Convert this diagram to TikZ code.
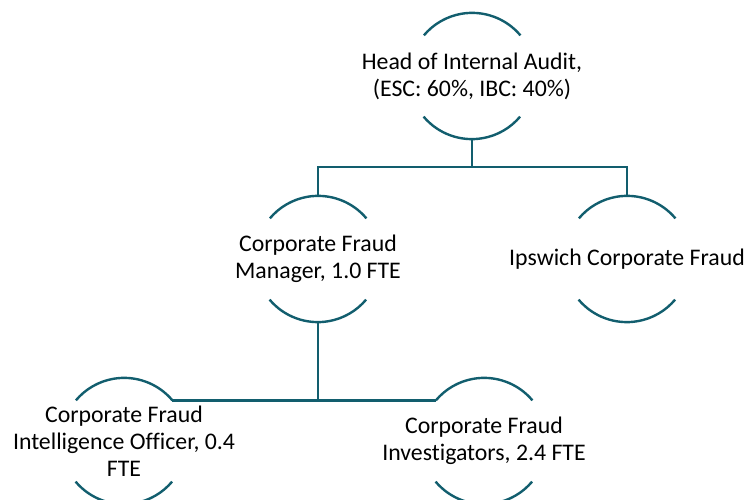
\documentclass[tikz,border=0pt]{standalone}
\usepackage{fontspec}
\setmainfont{Carlito}[Ligatures={NoCommon}]
\usetikzlibrary{calc}
\definecolor{teal}{HTML}{125E6E}

\begin{document}
\begin{tikzpicture}[x=1pt,y=1pt,
  unit/.style={circle,minimum size=126pt,inner sep=0pt},
  caption/.style={align=center,inner sep=0pt,
    font=\fontsize{23.8}{27}\selectfont},
  link/.style={draw=teal,line width=2.4pt}]
\useasboundingbox (0,0) rectangle (747,500);
% the posts
\node[unit] (head) at (472,424) {};
\node[unit] (mgr) at (318,241) {};
\node[unit] (ips) at (627,241) {};
\node[unit] (intel) at (124,59) {};
\node[unit] (inv) at (484,59) {};
\node[caption] (head-t) at (head) {Head of Internal Audit,\\(ESC: 60\%, IBC: 40\%)};
\node[caption] (mgr-t) at (mgr) {Corporate Fraud\\Manager, 1.0 FTE};
\node[caption] (ips-t) at (ips) {Ipswich Corporate Fraud};
\node[caption] (intel-t) at (intel) {Corporate Fraud\\Intelligence Officer, 0.4\\FTE};
\node[caption] (inv-t) at (inv) {Corporate Fraud\\Investigators, 2.4 FTE};
% top and bottom arcs of each circle
\foreach \n in {head,mgr,ips,intel,inv}{
  \draw[link] (\n.40) arc (40:140:63pt);
  \draw[link] (\n.220) arc (220:320:63pt);
}
% reporting lines
\draw[link] (head.south) -- ++(0,-28) coordinate (j1);
\draw[link] (mgr.north) |- (j1) -| (ips.north);
\draw[link] (mgr.south) |- (intel.40);
\draw[link] (mgr.south) |- (inv.140);
\end{tikzpicture}
\end{document}
